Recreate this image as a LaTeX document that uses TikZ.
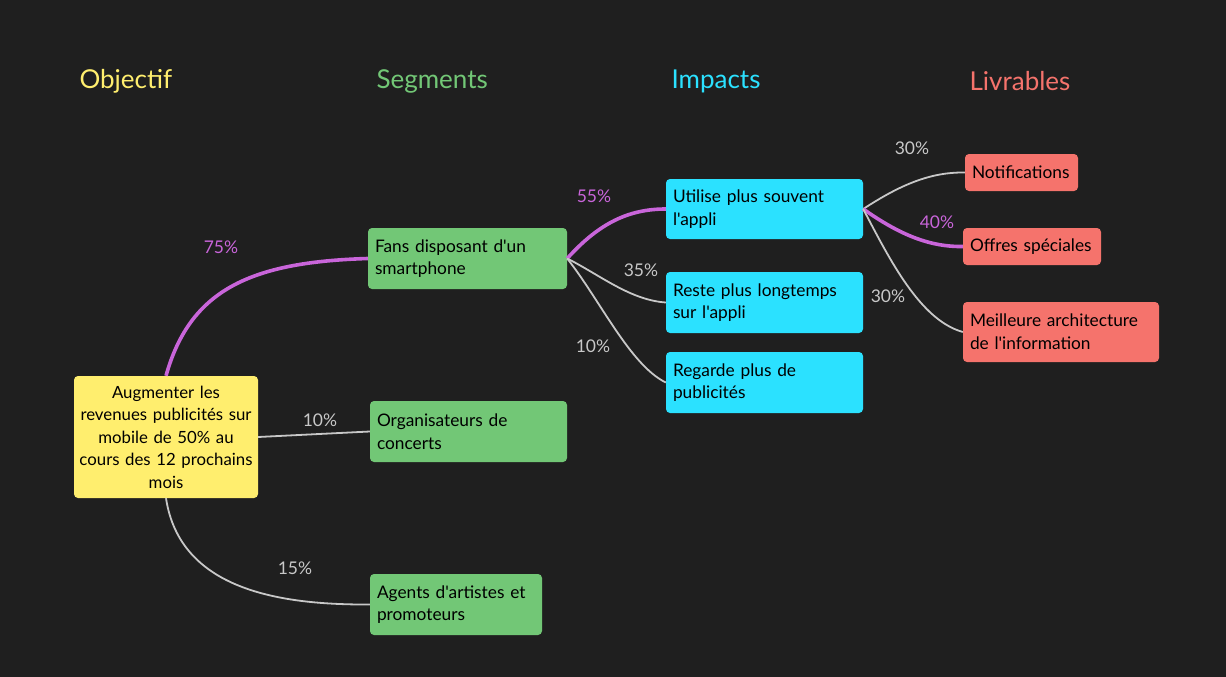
\documentclass[tikz,border=0pt]{standalone}
\usepackage{fontspec}
\setmainfont{Lato}[Ligatures=TeXOff]
\definecolor{bg}{HTML}{1F1F1F}
\definecolor{cy}{HTML}{FFEE6E}
\definecolor{cg}{HTML}{72C776}
\definecolor{cc}{HTML}{2BE1FF}
\definecolor{cr}{HTML}{F5736C}
\definecolor{cp}{HTML}{C965DA}
\definecolor{cgr}{HTML}{C8C8C8}
\begin{document}
\begin{tikzpicture}[x=1pt,y=-1pt,
  box/.style={rounded corners=4pt, inner xsep=7pt, inner ysep=4pt, font=\fontsize{17.3}{22.7}\selectfont, text=black, align=left},
  hdr/.style={font=\fontsize{26}{30}\selectfont, anchor=west},
  lnk/.style={draw=cgr, line width=1.8pt},
  hot/.style={draw=cp, line width=3.6pt},
  pl/.style={font=\fontsize{17.5}{20}\selectfont, text=cgr},
  pp/.style={font=\fontsize{17.5}{20}\selectfont, text=cp}]
\fill[bg] (0,0) rectangle (1226,677);
\useasboundingbox (0,0) rectangle (1226,677);
\node[hdr, text=cy] (h1) at (76,81) {Objectif};
\node[hdr, text=cg] (h2) at (373,81) {Segments};
\node[hdr, text=cc] (h3) at (668,81) {Impacts};
\node[hdr, text=cr] (h4) at (966,81) {Livrables};

\node[box, fill=cy, align=center, inner xsep=1pt, text width=182pt, minimum height=122pt, font=\fontsize{16.8}{22.5}\selectfont] (obj) at (166,437) {Augmenter les\\revenues publicités sur\\mobile de 50\% au\\cours des 12 prochains\\mois};

\node[box, fill=cg, text width=185pt, minimum height=61pt] (fans) at (467.5,258.5) {Fans disposant d'un\\smartphone};
\node[box, fill=cg, text width=183pt, minimum height=61pt] (org) at (468.5,431.5) {Organisateurs de\\concerts};
\node[box, fill=cg, text width=158pt, minimum height=61pt] (agt) at (456,604.5) {Agents d'artistes et\\promoteurs};

\node[box, fill=cc, text width=183pt, minimum height=60pt] (uti) at (764.5,209) {Utilise plus souvent\\l'appli};
\node[box, fill=cc, text width=183pt, minimum height=61pt] (res) at (764.5,302.5) {Reste plus longtemps\\sur l'appli};
\node[box, fill=cc, text width=183pt, minimum height=61pt] (reg) at (764.5,382.5) {Regarde plus de\\publicités};

\node[box, fill=cr, text width=99pt, minimum height=37pt] (not) at (1021.5,172.5) {Notifications};
\node[box, fill=cr, text width=124pt, minimum height=37pt] (off) at (1032,246.5) {Offres spéciales};
\node[box, fill=cr, text width=182pt, minimum height=60pt] (mei) at (1061,332) {Meilleure architecture\\de l'information};

\draw[hot] (obj.north) .. controls (190,290) and (250,262) .. (fans.west);
\draw[lnk] (obj.east) -- (org.west);
\draw[lnk] (obj.south) .. controls (180,590) and (280,605) .. (agt.west);

\draw[hot] (fans.east) .. controls (600,222) and (630,209) .. (uti.west);
\draw[lnk] (fans.east) .. controls (600,275) and (630,300) .. (res.west);
\draw[lnk] (fans.east) .. controls (600,300) and (630,365) .. (reg.west);

\draw[lnk] (uti.east) .. controls (900,185) and (930,172) .. (not.west);
\draw[hot] (uti.east) .. controls (900,235) and (930,247) .. (off.west);
\draw[lnk] (uti.east) .. controls (890,260) and (920,320) .. (mei.west);

\node[pp] (l1) at (221,247) {75\%};
\node[pl] (l2) at (320,420) {10\%};
\node[pl] (l3) at (295,568) {15\%};
\node[pp] (l4) at (594,196) {55\%};
\node[pl] (l5) at (641,270) {35\%};
\node[pl] (l6) at (593,346) {10\%};
\node[pl] (l7) at (912,148) {30\%};
\node[pp] (l8) at (937,222) {40\%};
\node[pl] (l9) at (888,296) {30\%};
\end{tikzpicture}
\end{document}
